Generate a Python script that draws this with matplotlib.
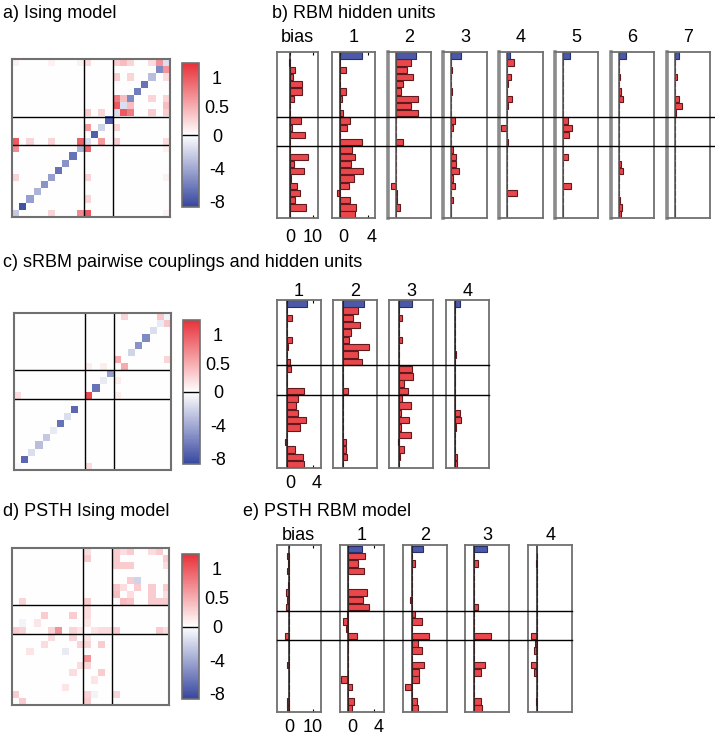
import numpy as np
import matplotlib
matplotlib.use('Agg')
import matplotlib.pyplot as plt
import matplotlib.transforms as mtransforms
from matplotlib.colors import LinearSegmentedColormap, TwoSlopeNorm
from matplotlib.lines import Line2D

plt.rcParams['font.family'] = ['Liberation Sans', 'DejaVu Sans']
plt.rcParams['font.size'] = 13

N = 22                      # neurons
GROUP_EDGES = [9.5, 13.5]   # boundaries between the three neuron groups

# ---- a) Ising model: fields on the diagonal, couplings (upper triangle)
ising_diag = [-2.5, -8, -4.5, -3.5, -5, -4.5, -6.5, -5, -6.5, -3.5, -1.5,
              -7.5, -2, -7.5, -1.5, -1.5, -5.5, -6, -6.5, -3, -5.5, -1.5]
ising_i = [0, 0, 0, 0, 2, 5, 9, 10, 10, 10, 12, 14, 14, 14, 14, 15, 15, 16, 16, 19, 20, 5, 9]
ising_j = [5, 9, 10, 21, 10, 10, 10, 12, 14, 21, 14, 15, 16, 19, 21, 16, 21, 19, 21, 21, 21, 21, 21]
ising_v = [0.25, 0.7, 1.0, 0.08, 0.25, 0.25, 0.95, 0.6, 0.3, 0.2, 0.25, 1.0, 0.8, 0.3, 0.3,
           0.4, 0.4, 0.25, 0.25, 0.2, 0.65, 0.08, 0.08]

# ---- c) sRBM pairwise part
srbm_diag = [-0.3, -7, -1.5, -3, -2.5, -1, -6.5, -1.5, -7, 0, 1.1,
             -6.5, -1, -4.5, 0, 0, -2, -5, -5.5, -1.5, -1, -0.5]
srbm_i = [0, 14, 15, 20, 12, 10]
srbm_j = [10, 15, 21, 21, 14, 14]
srbm_v = [0.2, 0.5, 0.25, 0.35, 0.1, 0.1]

# ---- d) PSTH Ising model
psth_diag = [0, 0, 0, 0, 0, 0, 0, -1.0, 0, 0, 0, 0, 0, 0, 0, 0, 0, -2.0, 0, 0, 0, 0]
psth_i = [6, 0, 1, 8, 9, 0, 0, 1, 5, 10, 10, 10, 8, 4, 4, 8, 1, 10, 14, 14, 14, 14, 15,
          15, 15, 16, 16, 16, 14, 19, 20, 10, 10, 2, 3, 5, 1]
psth_j = [10, 10, 10, 10, 10, 1, 10, 10, 10, 20, 12, 13, 9, 8, 12, 12, 14, 14, 15, 16, 19, 21, 21,
          19, 16, 19, 21, 17, 20, 21, 21, 21, 11, 7, 11, 9, 11]
psth_v = [0.65, 0.3, 0.25, 0.25, 0.15, 0.3, 0.3, 0.25, 0.25, 0.3, 0.2, 0.2, 0.25, 0.2, 0.3, 0.3,
          0.25, 0.3, 0.4, 0.35, 0.3, 0.3, 0.2, 0.3, 0.2, 0.3, 0.3, 0.3, 0.3, 0.2, 0.3, 0.2, 0.15,
          0.15, 0.15, 0.2, -0.5]

# ---- bar panels: rows listed top -> bottom (neuron 21 ... neuron 0)
b_labels = ['bias', '1', '2', '3', '4', '5', '6', '7']
b_vis_bias = [-0.3, 2.2, 1.4, 5.1, 5.1, 1.6, 0, 0, 5.0, 0.7, 6.5, 0, 0, 7.7, 1.8, 6.3,
              0.4, 3.0, 4.2, 2.4, 7.0, 0]
b_hid_bias = [3.1, 2.9, 1.4, 0.35, 0.95, 0.95, 0.6]
b_h1 = [0, 0.9, 0, 0, 0.9, 0.3, 0, 0.45, 1.45, 1.0, 0, 3.15, 1.75, 2.2, 1.65, 3.25, 2.05,
        1.35, -0.35, 1.5, 2.35, 2.15]
b_h2 = [2.1, 1.6, 2.4, 1.0, 0.8, 3.2, 2.2, 3.2, 0, 0, 0, 1.0, 0, 0, 0, 0, 0, -0.7, 0.2,
        0.2, 0.6, 0]
b_h3 = [0, 0.15, 0, 0, 0.15, 0, 0, 0, 0.45, 0.3, 0, 0, 0.3, 0.7, 0.6, 1.05, 0.3, 0.45, 0,
        0.3, 0, 0]
b_h4 = [1.0, 0, 0.5, 0.1, 0, 0.7, 0.1, 0, 0, -0.85, 0, 0.1, 0, 0, 0, 0, 0, 0, 1.3, 0, 0, 0]
b_h5 = [0, 0, 0, 0, 0, 0, 0, 0, 0.65, 1.2, 0.85, 0, 0, 0.75, 0, 0, 0, 1.1, 0, 0, 0, 0]
b_h6 = [0, 0, 0.1, 0, 0.3, 0.55, 0, 0, 0, 0, 0, 0, 0, 0, 0.3, 0.6, 0, 0, 0, 0.15, 0.35, 0.25]
b_h7 = [0, 0, 0.3, 0, 0, 0.65, 1.0, 0.2, 0, 0, 0, 0, 0, 0, 0, 0, 0, 0, 0, 0, 0.1, 0]

c_labels = ['1', '2', '3', '4']
c_hid_bias = [3.15, 3.2, 2.0, 0.65]
c_h1 = [0.05, 0.8, 0, 0, 0.8, 0.2, 0, 0.5, 0.6, 0.1, 0, 2.7, 1.7, 1.4, 1.8, 3.0, 2.1, 0.05,
        -0.2, 1.2, 2.5, 2.6]
c_h2 = [2.3, 1.5, 2.7, 1.2, 1.0, 4.0, 2.3, 2.9, 0, 0, 0, 0.75, 0, 0, 0, 0, 0, 0, 0.45, 0.45,
        0.7, 0]
c_h3 = [0.1, 0.55, 0, 0, 0.45, 0, 0, 0, 2.0, 2.2, 0.75, 1.35, 0.5, 1.9, 0.35, 1.5, 0.4, 1.9,
        -0.15, 0.8, 0.25, 0]
c_h4 = [0, 0, 0, 0, 0, 0, 0.05, 0, 0, 0, 0, 0, 0, 0, 0.65, 0.85, 0.1, 0, 0, 0, 0.25, 0.3]

e_labels = ['bias', '1', '2', '3', '4']
e_vis_bias = [-1.1, -0.5, -1.1, 0, -0.7, -1.4, -0.85, -1.5, 0, 0, 0, -2.0, 0, 0, 0, -1.0, 0,
              0, 0, 0, -0.85, -0.8]
e_hid_bias = [2.1, 1.75, 1.95, 0]
e_h1 = [2.6, 1.4, 2.4, 0, 0, 2.8, 2.2, 3.1, -0.2, -0.8, -0.4, 1.3, 0, 0, 0, 0, 0, -1.2, 0.5,
        0, 0.9, 0.5]
e_h2 = [0, 0.55, 0, 0, 0, 0, -0.3, 0.1, 0.55, 1.55, 0.1, 2.7, 1.0, 1.55, 0, 1.95, 1.2, 1.2,
        -1.1, 0, 0.77, 1.0]
e_h3 = [0, 0.6, 0, 0, 0, 0, 0, 0.6, 0, 0, 0, 2.5, 0, 0, 0, 1.6, 1.0, 0, 0, 0, 1.0, 1.2]
e_h4 = [0, -0.2, 0, 0, 0, 0, 0, 0, 0, 0, 0, -1.0, -0.3, -0.5, 0, -1.0, -0.5, 0, 0, 0, -0.2, 0]

cbar_ticks = [-8, -4, 0, 0.5, 1]

# ------------------------------------------------------------------ styling
W, H = 715, 738
RED = '#e9474c'
RED_EDGE = '#5e1a1d'
BLUE = '#4b59a8'
BLUE_EDGE = '#27306a'
FRAME = '#707070'

cmap = LinearSegmentedColormap.from_list('bwr_fig', ['#3747a0', '#ffffff', '#e8313a'])
norm = TwoSlopeNorm(vmin=-8.6, vcenter=0, vmax=1.25)

fig = plt.figure(figsize=(W / 100, H / 100), dpi=100)
shift_right = mtransforms.ScaledTranslation(4 / 100, 0, fig.dpi_scale_trans)


def rect(x0, y0, x1, y1):
    return [x0 / W, 1 - y1 / H, (x1 - x0) / W, (y1 - y0) / H]


def build_matrix(diag, ii, jj, vv):
    m = np.diag(np.array(diag, dtype=float))
    for i, j, v in zip(ii, jj, vv):
        m[i, j] = v
        m[j, i] = v
    return m


def matrix_panel(box, cbox, diag, ii, jj, vv):
    ax = fig.add_axes(rect(*box))
    im = ax.imshow(build_matrix(diag, ii, jj, vv), cmap=cmap, norm=norm,
                   origin='lower', interpolation='nearest', aspect='auto')
    for e in GROUP_EDGES:
        ax.axvline(e, color='k', lw=1)
        ax.axhline(e, color='k', lw=1)
    ax.set_xticks([])
    ax.set_yticks([])
    for s in ax.spines.values():
        s.set_color(FRAME)
        s.set_linewidth(1.5)
    cax = fig.add_axes(rect(*cbox))
    cb = fig.colorbar(im, cax=cax, ticks=cbar_ticks)
    cb.ax.set_yticklabels(['-8', '-4', '0', '0.5', '1'])
    cb.ax.tick_params(length=0, pad=13, labelsize=13)
    for t in cb.ax.get_yticklabels():
        t.set_horizontalalignment('center')
    cb.ax.axhline(0, color='k', lw=1)
    cb.outline.set_edgecolor(FRAME)
    cb.outline.set_linewidth(1.2)


def bar_panel(box, weights, hbias, xlim, ticks=None, pad=8, hidden=True, grey_left=False):
    ax = fig.add_axes(rect(*box))
    y = np.arange(N)[::-1]
    ax.barh(y, weights, height=0.88, color=RED, edgecolor=RED_EDGE, linewidth=0.8)
    if hbias is not None and hbias != 0:
        ax.barh(N, hbias, height=0.88, color=BLUE, edgecolor=BLUE_EDGE, linewidth=0.8)
    ax.axvline(0, color='#555555' if grey_left else '#222222', lw=1.1)
    ax.set_xlim(*xlim)
    ax.set_ylim(-0.5, N + 0.5)
    ax.set_yticks([])
    if ticks:
        ax.set_xticks(ticks)
        ax.set_xticklabels([str(t) for t in ticks])
        ax.tick_params(axis='x', direction='in', length=2, top=True, pad=pad, labelsize=13)
        if hidden:
            for t in ax.get_xticklabels():
                t.set_transform(t.get_transform() + shift_right)
    else:
        ax.set_xticks([])
    for s in ax.spines.values():
        s.set_color(FRAME)
        s.set_linewidth(1.3)
    if grey_left:
        ax.spines['left'].set_linewidth(2.6)
        ax.spines['left'].set_color('#8c8c8c')
    return ax


def group_lines(ax, x0, x1):
    trans = mtransforms.blended_transform_factory(fig.transFigure, ax.transData)
    for e in GROUP_EDGES:
        fig.add_artist(Line2D([x0 / W, x1 / W], [e, e], transform=trans,
                              color='k', lw=1))


def label(x, y, s, ha='left'):
    fig.text(x / W, 1 - y / H, s, ha=ha, va='baseline', fontsize=13)


# ---------------------------------------------------------------- matrices
matrix_panel((12.3, 59.3, 170, 216.7), (181.7, 63.3, 199, 206.7),
             ising_diag, ising_i, ising_j, ising_v)
matrix_panel((14, 313.3, 170.7, 470), (182.7, 320, 200, 464),
             srbm_diag, srbm_i, srbm_j, srbm_v)
matrix_panel((11.7, 548.3, 169, 705), (181.7, 554.3, 199, 698.7),
             psth_diag, psth_i, psth_j, psth_v)

label(3, 17.5, 'a) Ising model')
label(272, 17.5, 'b) RBM hidden units')
label(3, 266.5, 'c) sRBM pairwise couplings and hidden units')
label(3, 515.7, 'd) PSTH Ising model')
label(243, 515.7, 'e) PSTH RBM model')

# ---------------------------------------------------------------- b) RBM
b_left = [331.7, 387.7, 443.3, 499.3, 555, 611, 666.7]
b_top, b_bot = 51.7, 218.3
ax0 = bar_panel((277.3, b_top, 318.3, b_bot), b_vis_bias, None, (-5.5, 12.3), [0, 10],
                hidden=False)
label(297.8, 42.3, b_labels[0], ha='center')
for k, w in enumerate([b_h1, b_h2, b_h3, b_h4, b_h5, b_h6, b_h7]):
    x0 = b_left[k]
    bar_panel((x0, b_top, x0 + 43.3, b_bot), w, b_hid_bias[k], (-1.13, 4.97),
              [0, 4] if k == 0 else None, grey_left=k > 0)
    label(x0 + 21.6, 42.3, b_labels[k + 1], ha='center')
group_lines(ax0, 277, 715)

# ---------------------------------------------------------------- c) sRBM
c_left = [277.3, 333.3, 389.3, 446]
c_top, c_bot = 299.7, 467.7
axes_c = []
for k, w in enumerate([c_h1, c_h2, c_h3, c_h4]):
    x0 = c_left[k]
    axes_c.append(bar_panel((x0, c_top, x0 + 43.3, c_bot), w, c_hid_bias[k],
                            (-1.43, 5.17), [0, 4] if k == 0 else None, pad=5.5))
    label(x0 + 21.6, 295.7, c_labels[k], ha='center')
group_lines(axes_c[0], 277.3, 489.3)

# ---------------------------------------------------------------- e) PSTH RBM
e_left = [339.5, 402.7, 465.3, 528.3]
e_top, e_bot = 545.3, 712.3
ax0 = bar_panel((276.7, e_top, 320.7, e_bot), e_vis_bias, None, (-5.3, 13.2), [0, 10],
                pad=5, hidden=False)
label(298.7, 540, e_labels[0], ha='center')
for k, w in enumerate([e_h1, e_h2, e_h3, e_h4]):
    x0 = e_left[k]
    bar_panel((x0, e_top, x0 + 44, e_bot), w, e_hid_bias[k], (-1.38, 5.39),
              [0, 4] if k == 0 else None, pad=5)
    label(x0 + 22, 540, e_labels[k + 1], ha='center')
group_lines(ax0, 276.7, 572.3)

fig.savefig('out.png', dpi=100)
